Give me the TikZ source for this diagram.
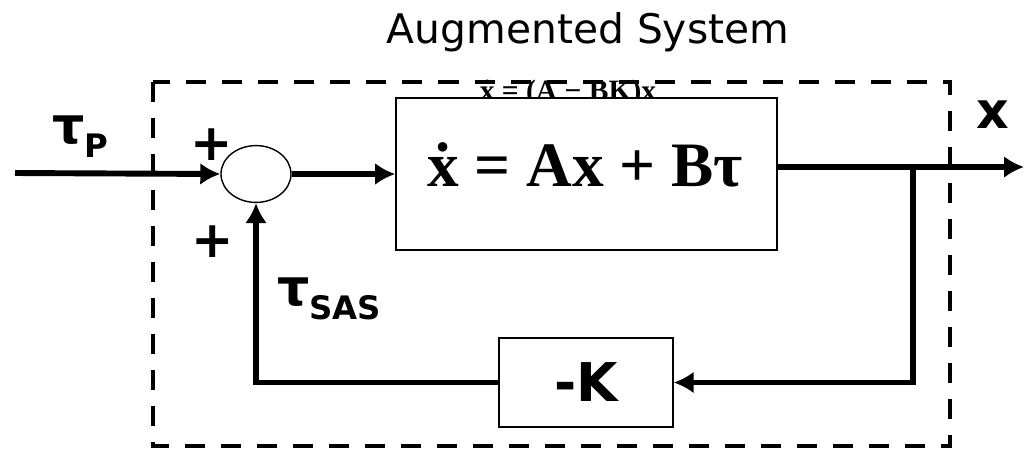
\documentclass[tikz,border=0pt]{standalone}
\usepackage{fontspec}
\setmainfont{Liberation Serif}
\setsansfont{DejaVu Sans}
\usetikzlibrary{arrows.meta,shapes.geometric}
\newcommand{\lowsub}[1]{\raisebox{-10pt}{\fontsize{23}{26}\selectfont #1}}
\newcommand{\xdot}{\ooalign{x\cr\hidewidth ˙\hidewidth\cr}}
\tikzset{
	sig/.style={line width=4.2pt},
	blk/.style={draw,line width=1pt,fill=white,inner sep=0pt},
	lbl/.style={font=\sffamily\bfseries,inner sep=0pt},
}
\begin{document}
\begin{tikzpicture}[x=0.025cm,y=-0.025cm,>={Latex[length=0.5cm,width=0.55cm]}]
\useasboundingbox (0,0) rectangle (1024,450);
\node[font=\sffamily\fontsize{29}{34}\selectfont,anchor=base,inner sep=0pt] (title) at (588,43) {Augmented System};
\node[font=\rmfamily\bfseries\fontsize{21}{23}\selectfont,anchor=base,inner sep=0pt] (closed) at (568,100) {\xdot{} = (A − BK)x};
\draw[line width=2.8pt,dash pattern=on 0.5cm off 0.4cm] (153,82) rectangle (950,446);
\node[blk,minimum width=9.525cm,minimum height=3.8cm] (plant) at (586.5,174) {};
\node[font=\rmfamily\bfseries\fontsize{45}{50}\selectfont,inner sep=0pt] (eq) at (585,166) {\xdot{} = Ax + Bτ};
\node[draw,ellipse,line width=1pt,minimum width=1.75cm,minimum height=1.42cm,inner sep=0pt] (sum) at (256,174) {};
\node[blk,minimum width=4.35cm,minimum height=2.225cm,font=\sffamily\bfseries\fontsize{38}{40}\selectfont] (gain) at (586,382.5) {-K};
\coordinate (in) at (15,173);
\coordinate (branch) at (913,167);
\coordinate (out) at (1024,167);
% signal paths
\draw[sig,->] (in) -- (sum.west);
\draw[sig,->] (sum.east) -- (plant.west);
\draw[sig,->] (plant.east |- branch) -- (out);
\draw[sig,->] (branch) |- (gain.east);
\draw[sig,->] (gain.west) -| (sum.south);
% labels
\node[lbl,anchor=base west] (tauP) at (52,143) {\fontsize{36}{40}\selectfont τ\lowsub{P}};
\node[lbl,anchor=base west] (tauSAS) at (277,305) {\fontsize{36}{40}\selectfont τ\lowsub{SAS}};
\node[lbl,font=\sffamily\bfseries\fontsize{36}{40}\selectfont] (plusA) at (212,145) {+};
\node[lbl,font=\sffamily\bfseries\fontsize{36}{40}\selectfont] (plusB) at (213,242) {+};
\node[lbl,font=\sffamily\bfseries\fontsize{36}{40}\selectfont] (xout) at (993,115) {x};
\end{tikzpicture}
\end{document}
